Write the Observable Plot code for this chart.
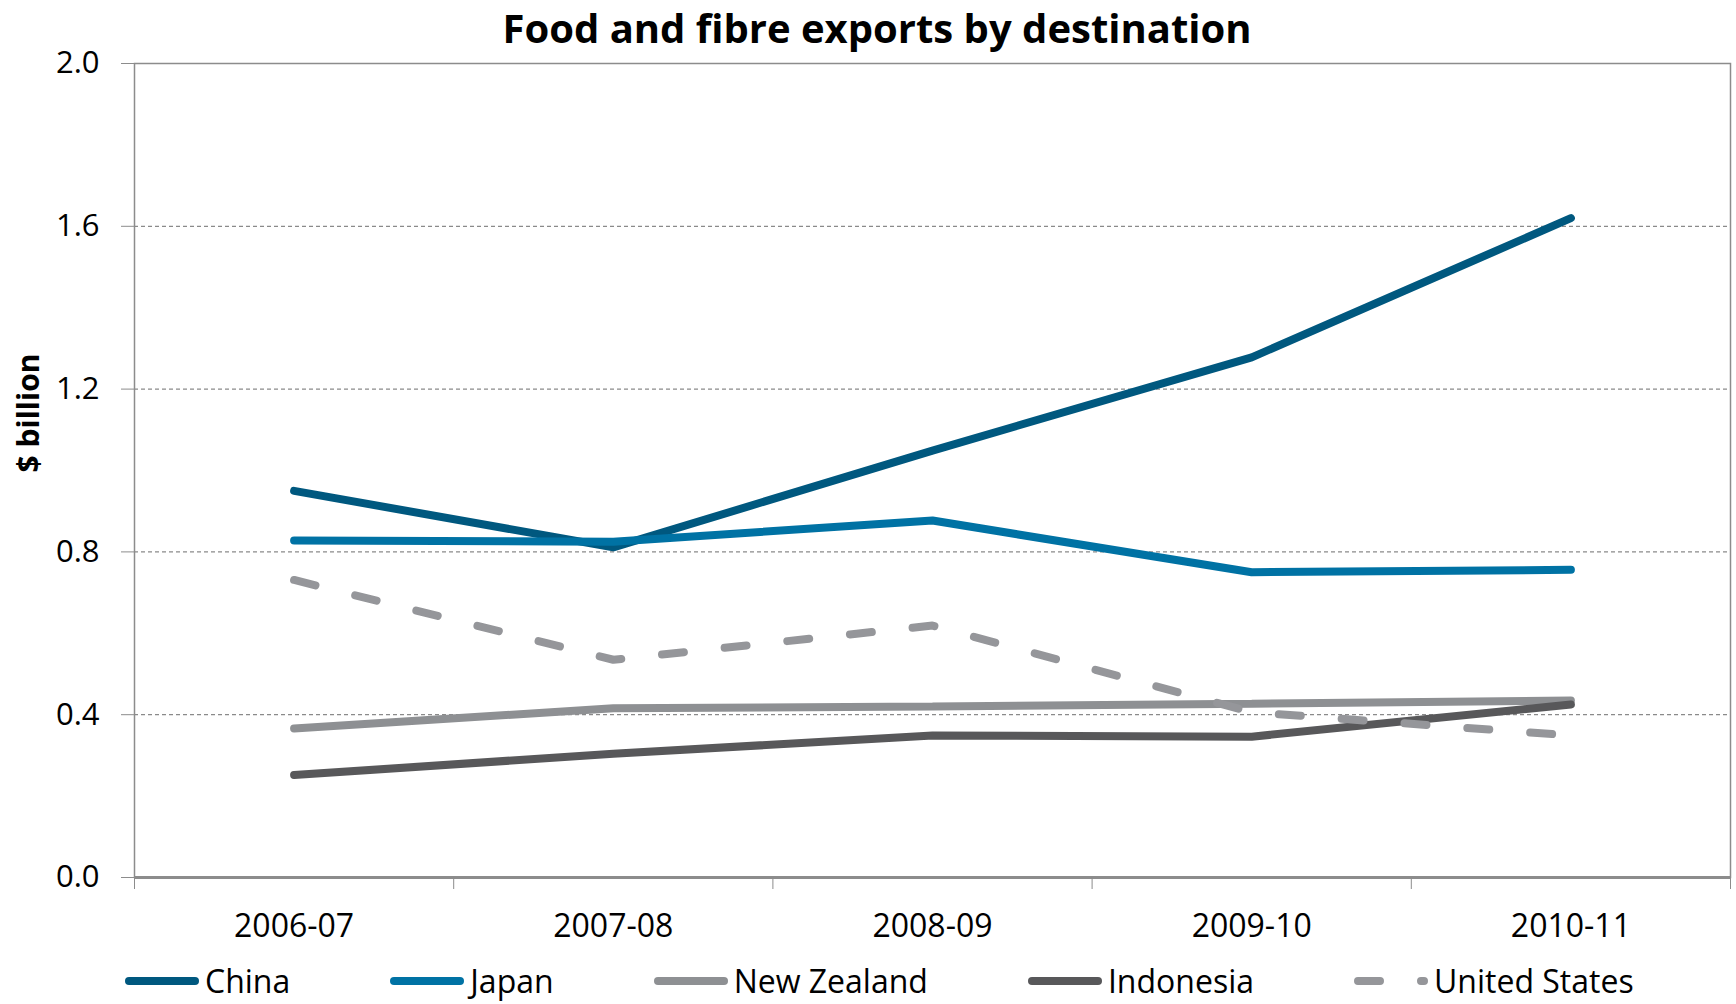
<!DOCTYPE html>
<html>
<head>
<meta charset="utf-8">
<script src="https://cdn.jsdelivr.net/npm/d3@7"></script>
<script src="https://cdn.jsdelivr.net/npm/@observablehq/plot@0.6"></script>
<style>
  html, body { margin: 0; padding: 0; background: #fff; }
  #wrap { position: relative; width: 1736px; height: 1004px; overflow: hidden; font-family: "Open Sans", sans-serif; }
  #title { position: absolute; left: 0; width: 1754px; top: 0; text-align: center; font-weight: 700; font-size: 40px; line-height: 56px; color: #000; }
  #ylabel { position: absolute; left: 28px; top: 413px; transform: translate(-50%, -50%) rotate(-90deg); font-weight: 700; font-size: 30px; line-height: 34px; white-space: nowrap; color: #000; }
  #chart { position: absolute; left: 0; top: 0; }
  #legend { position: absolute; left: 125px; top: 963px; height: 36px; display: flex; align-items: center; gap: 100px; font-size: 32px; line-height: 36px; color: #000; }
  .item { display: flex; align-items: center; height: 36px; }
  .item svg { margin-right: 6px; }
</style>
</head>
<body>
<div id="wrap">
  <div id="chart"></div>
  <div id="title">Food and fibre exports by destination</div>
  <div id="ylabel">$ billion</div>
  <div id="legend"></div>
</div>
<script>
const categories = ["2006-07", "2007-08", "2008-09", "2009-10", "2010-11"];
const seriesNames = ["China", "Japan", "New Zealand", "Indonesia", "United States"];
const china = [0.950, 0.811, 1.049, 1.278, 1.620];
const japan = [0.828, 0.825, 0.877, 0.750, 0.756];
const newZealand = [0.366, 0.416, 0.420, 0.427, 0.435];
const indonesia = [0.252, 0.304, 0.349, 0.346, 0.425];
const unitedStates = [0.731, 0.535, 0.619, 0.406, 0.349];
const yTicks = [0.0, 0.4, 0.8, 1.2, 1.6, 2.0];

const seriesValues = [china, japan, newZealand, indonesia, unitedStates];
const colors = ["#00587F", "#0072A4", "#8E9093", "#58585A", "#95969A"];
const dashes = [null, null, null, null, "22,41"];

const rows = [];
seriesNames.forEach((s, si) => {
  categories.forEach((c, i) => rows.push({series: s, category: c, index: i, value: seriesValues[si][i]}));
});

const lineMarks = seriesNames.map((s, si) =>
  Plot.line(rows.filter(d => d.series === s), {
    x: d => d.index + 0.5,
    y: "value",
    stroke: colors[si],
    strokeWidth: 8,
    strokeLinecap: "round",
    strokeLinejoin: "miter",
    strokeDasharray: dashes[si] || undefined
  })
);

const chart = Plot.plot({
  width: 1736,
  height: 960,
  marginTop: 63,
  marginRight: 6,
  marginBottom: 83,
  marginLeft: 134,
  style: {fontFamily: "'Open Sans', sans-serif", fontSize: "31px", color: "#000", background: "transparent"},
  x: {type: "linear", domain: [0, categories.length], axis: null},
  y: {domain: [0, 2], axis: null},
  marks: [
    Plot.ruleY(yTicks.filter(d => d > 0 && d < 2), {stroke: "#8a8a8a", strokeWidth: 1.3, strokeDasharray: "4,3"}),
    Plot.frame({stroke: "#8c8c8c", strokeWidth: 1.5}),
    Plot.ruleY([0], {stroke: "#8c8c8c", strokeWidth: 3}),
    Plot.axisY({ticks: yTicks, tickFormat: d3.format(".1f"), tickSize: 13, tickPadding: 22, stroke: "#8c8c8c", label: null}),
    Plot.axisX({ticks: d3.range(categories.length + 1), tickFormat: () => "", tickSize: 12, stroke: "#8c8c8c", label: null}),
    Plot.axisX({ticks: categories.map((_, i) => i + 0.5), tickFormat: d => categories[Math.floor(d)], tickSize: 0, tickPadding: 37, fontSize: 32, label: null}),
    ...lineMarks
  ]
});
document.getElementById("chart").appendChild(chart);

const legend = d3.select("#legend");
seriesNames.forEach((s, si) => {
  const item = legend.append("div").attr("class", "item");
  const svg = item.append("svg").attr("width", 74).attr("height", 20);
  svg.append("line")
    .attr("x1", 4).attr("x2", 70).attr("y1", 10).attr("y2", 10)
    .attr("stroke", colors[si]).attr("stroke-width", 8)
    .attr("stroke-linecap", "round")
    .attr("stroke-dasharray", dashes[si] || null);
  item.append("span").text(s);
});
</script>
</body>
</html>
